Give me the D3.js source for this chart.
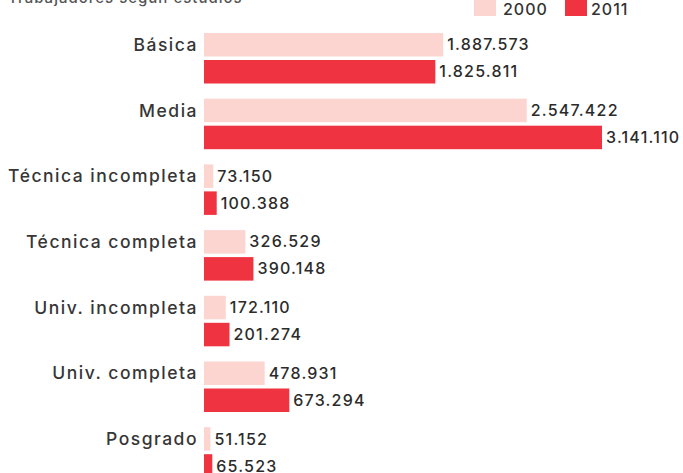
<!DOCTYPE html>
<html>
<head>
<meta charset="utf-8">
<script src="https://cdn.jsdelivr.net/npm/d3@7"></script>
<style>
  body { margin: 0; background: #fff; }
  text { font-family: Inter, "Open Sans", sans-serif; }
</style>
</head>
<body>
<div id="chart"></div>
<script>
// data
const categories = ['Básica', 'Media', 'Técnica incompleta', 'Técnica completa', 'Univ. incompleta', 'Univ. completa', 'Posgrado'];
const years = ['2000', '2011'];
const values2000 = [1887573, 2547422, 73150, 326529, 172110, 478931, 51152];
const values2011 = [1825811, 3141110, 100388, 390148, 201274, 673294, 65523];
const colors = ['#fcd5d1', '#ef3340'];

const width = 683;
const height = 473;

const svg = d3.select('#chart').append('svg')
    .attr('width', width)
    .attr('height', height);

// title (cut off at the top in the original)
svg.append('text')
    .attr('x', 8)
    .attr('y', 3)
    .attr('font-size', 15)
    .attr('font-weight', 500)
    .attr('letter-spacing', 1)
    .attr('fill', '#555')
    .text('Trabajadores según estudios');

// legend
const legend = svg.selectAll('.legend')
    .data(years)
    .enter().append('g')
    .attr('transform', (d, i) => `translate(${474 + i * 91}, 0)`);

legend.append('rect')
    .attr('width', 22)
    .attr('height', 16)
    .attr('fill', (d, i) => colors[i]);

legend.append('text')
    .attr('x', (d, i) => i === 0 ? 29 : 26)
    .attr('y', 15)
    .attr('font-size', 16)
    .attr('font-weight', 500)
    .attr('letter-spacing', 1)
    .attr('fill', '#333')
    .text(d => d);

// scales
const x0 = 204;
const xScale = d3.scaleLinear()
    .domain([0, 3141110])
    .range([0, 398]);

const yScale = d3.scaleBand()
    .domain(categories)
    .range([33, 33 + 65.7 * categories.length]);

const barH = 23.5;
const gap = 3.5;

const fmt = v => d3.format(',')(v).replace(/,/g, '.');

const groups = svg.selectAll('.group')
    .data(categories)
    .enter().append('g')
    .attr('transform', d => `translate(${x0}, ${yScale(d)})`);

groups.append('text')
    .attr('x', -6)
    .attr('y', barH / 2)
    .attr('dy', '0.35em')
    .attr('text-anchor', 'end')
    .attr('font-size', 17.5)
    .attr('font-weight', 500)
    .attr('letter-spacing', 1.5)
    .attr('fill', '#363636')
    .text(d => d);

[values2000, values2011].forEach((vals, s) => {
    groups.append('rect')
        .attr('x', 0)
        .attr('y', s * (barH + gap))
        .attr('width', (d, i) => xScale(vals[i]))
        .attr('height', barH)
        .attr('fill', colors[s]);

    groups.append('text')
        .attr('x', (d, i) => xScale(vals[i]) + 4)
        .attr('y', s * (barH + gap) + barH / 2)
        .attr('dy', '0.35em')
        .attr('font-size', 16)
        .attr('font-weight', 500)
        .attr('letter-spacing', 1.2)
        .attr('fill', '#2b2b2b')
        .text((d, i) => fmt(vals[i]));
});
</script>
</body>
</html>
